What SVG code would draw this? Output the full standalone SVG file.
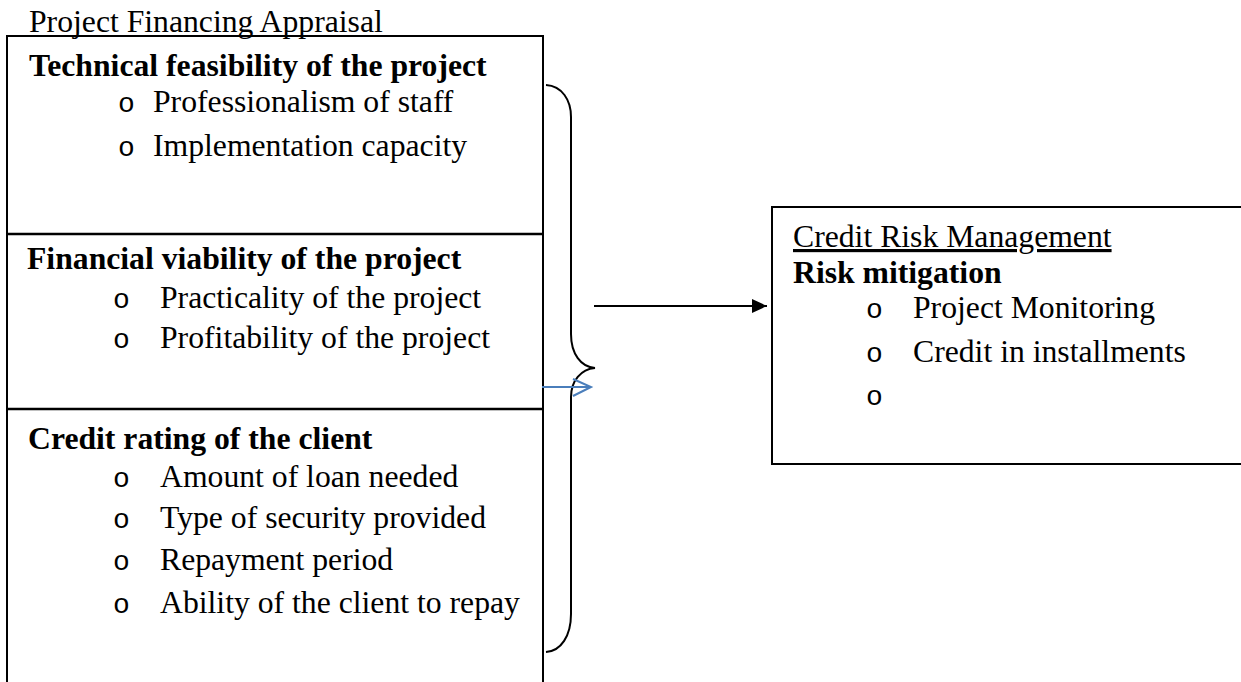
<svg xmlns="http://www.w3.org/2000/svg" width="1241" height="682" viewBox="0 0 1241 682">
  <style>
    text { font-family: "Liberation Serif", "Times New Roman", serif; font-size: 31.7px; fill: #000; }
    .head { font-weight: bold; }
    .bullet { font-family: "Liberation Mono", "Courier New", monospace; font-size: 28px; }
    .frame { fill: none; stroke: #000; stroke-width: 2; }
    .divider { stroke: #000; stroke-width: 2.6; }
    .brace { fill: none; stroke: #000; stroke-width: 2; }
    .link { stroke: #000; stroke-width: 2; fill: none; }
    .link-blue { stroke: #4A7EBB; stroke-width: 2; fill: none; }
  </style>
  <defs>
    <marker id="arrow-solid" markerUnits="userSpaceOnUse" markerWidth="16" markerHeight="16" refX="15" refY="8" orient="auto">
      <path d="M0,1 L15,8 L0,15 Z" fill="#000"/>
    </marker>
  </defs>

  <rect width="1241" height="682" fill="#fff"/>

  <!-- Appraisal panel -->
  <g id="appraisal">
    <text x="29" y="32">Project Financing Appraisal</text>
    <rect class="frame" x="7" y="36" width="536" height="680"/>
    <line class="divider" x1="7" y1="234" x2="543" y2="234"/>
    <line class="divider" x1="7" y1="409" x2="543" y2="409"/>
  </g>

  <g id="technical">
    <text class="head" x="29" y="76">Technical feasibility of the project</text>
    <text class="bullet" x="118" y="112">o</text>
    <text x="153" y="112">Professionalism of staff</text>
    <text class="bullet" x="118" y="156">o</text>
    <text x="153" y="156">Implementation capacity</text>
  </g>

  <g id="financial">
    <text class="head" x="27" y="269">Financial viability of the project</text>
    <text class="bullet" x="113" y="308">o</text>
    <text x="160" y="308">Practicality of the project</text>
    <text class="bullet" x="113" y="348">o</text>
    <text x="160" y="348">Profitability of the project</text>
  </g>

  <g id="credit-rating">
    <text class="head" x="28" y="449">Credit rating of the client</text>
    <text class="bullet" x="113" y="487">o</text>
    <text x="160" y="487">Amount of loan needed</text>
    <text class="bullet" x="113" y="528">o</text>
    <text x="160" y="528">Type of security provided</text>
    <text class="bullet" x="113" y="570">o</text>
    <text x="160" y="570">Repayment period</text>
    <text class="bullet" x="113" y="613">o</text>
    <text x="160" y="613">Ability of the client to repay</text>
  </g>

  <!-- Risk management panel -->
  <g id="risk-management">
    <rect class="frame" x="772" y="207" width="480" height="257"/>
    <text x="793" y="247" text-decoration="underline">Credit Risk Management</text>
    <text class="head" x="793" y="283">Risk mitigation</text>
    <text class="bullet" x="866" y="318">o</text>
    <text x="913" y="318">Project Monitoring</text>
    <text class="bullet" x="866" y="362">o</text>
    <text x="913" y="362">Credit in installments</text>
    <text class="bullet" x="866" y="405">o</text>
  </g>

  <!-- Connectors -->
  <g id="connectors">
    <path class="brace" d="M546,85 C562,86 571,100 571,117 L571,334 C571,354 581,367 595,368 C581,369 571,381 571,397 L571,614 C571,636 561,651 546,652"/>
    <line class="link" x1="594" y1="306" x2="767" y2="306" marker-end="url(#arrow-solid)"/>
    <path class="link-blue" d="M542,387 L591,387 M573,379 L591,387 L573,396"/>
  </g>
</svg>
